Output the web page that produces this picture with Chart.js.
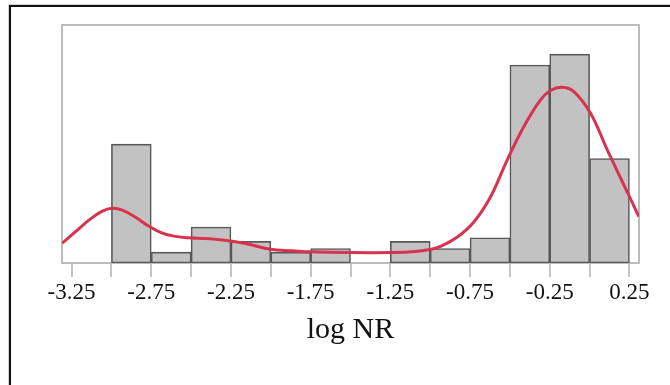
<!DOCTYPE html>
<html>
<head>
<meta charset="utf-8">
<script src="https://cdn.jsdelivr.net/npm/chart.js@4.4.1/dist/chart.umd.min.js"></script>
<style>
  html, body { margin: 0; padding: 0; background: #fff; }
  #wrap { position: relative; width: 670px; height: 385px; overflow: hidden; }
  #frame {
    position: absolute; left: 9px; top: 5px; width: 700px; height: 420px;
    border-left: 2px solid #111; border-top: 2px solid #111;
    box-shadow: -1px -1px 0 #d4d4d4;
  }
  #histCanvas { position: absolute; left: 0; top: 0; }
</style>
</head>
<body>
<div id="wrap">
  <div id="frame"></div>
  <canvas id="histCanvas" width="670" height="385"></canvas>
</div>
<script>
// histogram bins (centres, width 0.25) and counts
const binCenters = [-2.875, -2.625, -2.375, -2.125, -1.875, -1.625, -1.375, -1.125, -0.875, -0.625, -0.375, -0.125, 0.125];
const binCounts = [33, 3, 10, 6, 3, 4, 0, 6, 4, 7, 55, 58, 29];

// density curve (same vertical units as the counts)
const kdeX = [-3.308, -3.225, -3.141, -3.057, -2.995, -2.932, -2.848, -2.765, -2.681, -2.598, -2.514, -2.409,
  -2.305, -2.221, -2.158, -2.002, -1.865, -1.751, -1.493, -1.244, -1.113, -0.993, -0.935, -0.830, -0.726,
  -0.621, -0.517, -0.412, -0.308, -0.245, -0.172, -0.099, 0.006, 0.111, 0.215, 0.309];
const kdeY = [5.5, 8.7, 11.9, 14.4, 15.2, 14.7, 12.7, 10.2, 8.3, 7.4, 7.0, 6.8,
  6.4, 5.9, 5.4, 3.8, 3.4, 3.1, 2.9, 2.9, 3.1, 3.8, 4.6, 7.2, 11.4,
  18.4, 28.6, 37.9, 45.3, 47.9, 48.8, 47.6, 41.6, 31.4, 21.7, 12.9];

// x axis ticks (every bin edge), labels on every other one
const tickValues = [-3.25, -3.0, -2.75, -2.5, -2.25, -2.0, -1.75, -1.5, -1.25, -1.0, -0.75, -0.5, -0.25, 0.0, 0.25];
const labelledTicks = [-3.25, -2.75, -2.25, -1.75, -1.25, -0.75, -0.25, 0.25];
const axisTitle = 'log NR';

const plotFrame = {
  id: 'plotFrame',
  beforeDatasetsDraw(chart) {
    const a = chart.chartArea;
    const c = chart.ctx;
    c.save();
    c.strokeStyle = '#bcbcbc';
    c.lineWidth = 2;
    c.strokeRect(a.left, a.top, a.right - a.left, a.bottom - a.top);
    c.restore();
  }
};

const ctx = document.getElementById('histCanvas').getContext('2d');
const chart = new Chart(ctx, {
  type: 'bar',
  data: {
    datasets: [
      {
        type: 'line',
        data: kdeX.map((x, i) => ({ x: x, y: kdeY[i] })),
        borderColor: '#d8324f',
        borderWidth: 3,
        pointRadius: 0,
        tension: 0.4,
        fill: false,
        order: 0
      },
      {
        type: 'bar',
        data: binCenters.map((x, i) => ({ x: x, y: binCounts[i] })),
        backgroundColor: '#c2c2c2',
        borderColor: '#585858',
        borderWidth: 1.6,
        borderSkipped: false,
        barPercentage: 1,
        categoryPercentage: 1,
        order: 1
      }
    ]
  },
  plugins: [plotFrame],
  options: {
    responsive: false,
    animation: false,
    layout: { padding: { left: 62, right: 31, top: 25, bottom: 33 } },
    plugins: { legend: { display: false }, tooltip: { enabled: false } },
    scales: {
      x: {
        type: 'linear',
        min: -3.31,
        max: 0.31,
        offset: false,
        afterFit: (scale) => { scale.height = 89; },
        afterBuildTicks: (scale) => { scale.ticks = tickValues.map(v => ({ value: v })); },
        border: { display: false },
        grid: {
          offset: false,
          drawOnChartArea: false,
          drawTicks: true,
          tickLength: 14,
          color: '#c4c4c4',
          lineWidth: 2
        },
        ticks: {
          autoSkip: false,
          maxRotation: 0,
          minRotation: 0,
          padding: 2,
          color: '#111',
          font: { family: 'Liberation Serif', size: 23 },
          callback: (value) => labelledTicks.includes(value) ? value.toFixed(2) : ''
        },
        title: {
          display: true,
          text: axisTitle,
          color: '#111',
          font: { family: 'Liberation Serif', size: 30 },
          padding: { top: 2, bottom: 4 }
        }
      },
      y: {
        display: false,
        min: 0,
        max: 66.1
      }
    }
  }
});
</script>
</body>
</html>
